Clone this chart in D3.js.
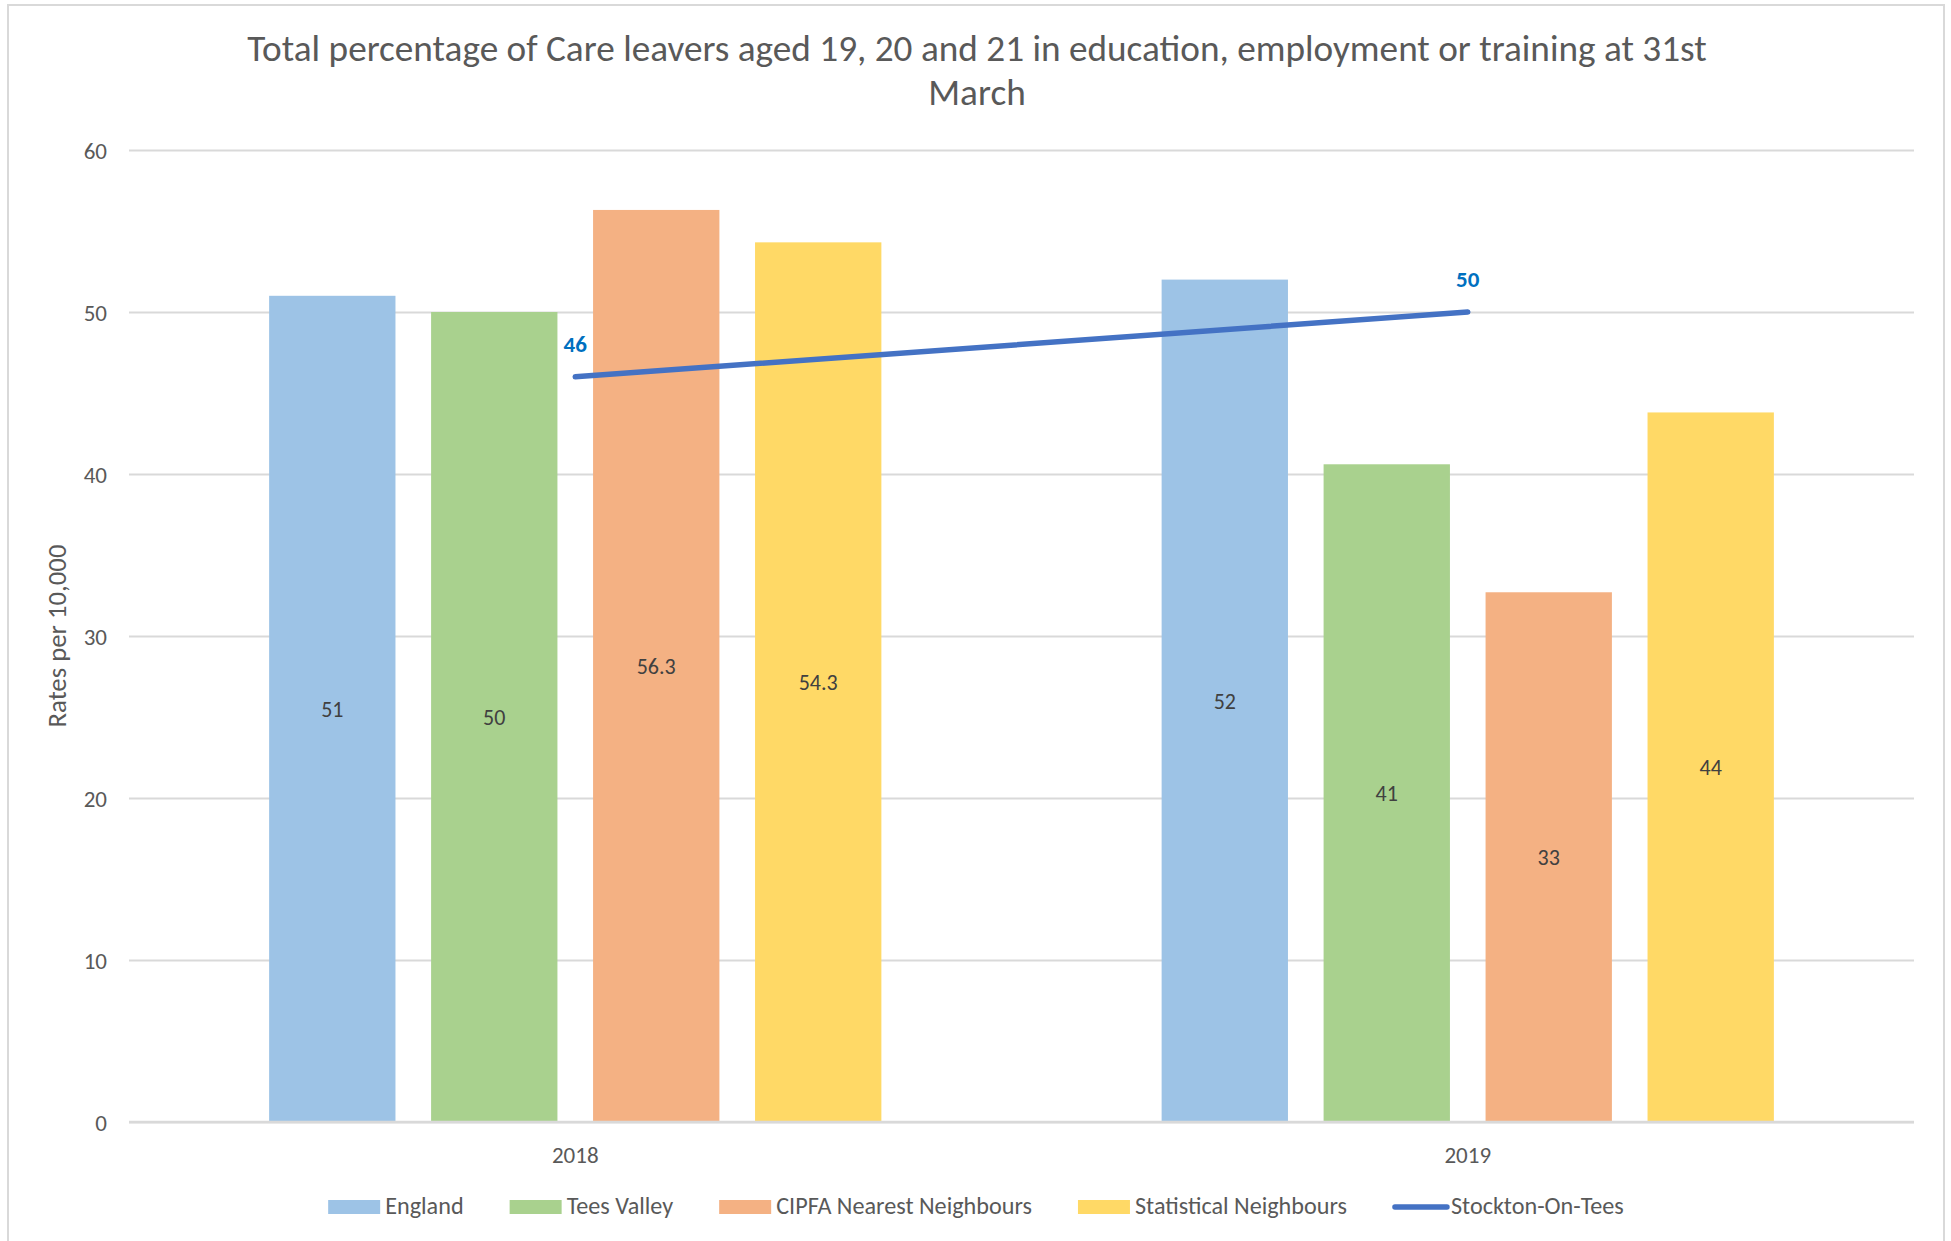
<!DOCTYPE html>
<html>
<head>
<meta charset="utf-8">
<script src="https://cdn.jsdelivr.net/npm/d3@7"></script>
<style>
  body { margin: 0; background: #fff; }
  text { font-family: Carlito, Calibri, Lato, sans-serif; }
</style>
</head>
<body>
<svg width="1951" height="1241"></svg>
<script>
// data
const years = ['2018', '2019'];
const series = ['England', 'Tees Valley', 'CIPFA Nearest Neighbours', 'Statistical Neighbours'];
const colors = ['#9DC3E6', '#A9D18E', '#F4B183', '#FFD966'];
const england = [51, 52],
      teesValley = [50, 40.6],
      cipfa = [56.3, 32.7],
      statNeighbours = [54.3, 43.8];
const barLabels = [['51', '52'], ['50', '41'], ['56.3', '33'], ['54.3', '44']];
const lineName = 'Stockton-On-Tees';
const stockton = [46, 50];
const yTicks = [0, 10, 20, 30, 40, 50, 60];
const titleLines = ['Total percentage of Care leavers aged 19, 20 and 21 in education, employment or training at 31st', 'March'];
const yTitle = 'Rates per 10,000';

const W = 1951, H = 1241;
const m = {l: 129, r: 1914, t: 150, b: 1122}; // plot area
const grey = '#595959', grid = '#d9d9d9';

const svg = d3.select('svg');

// chart frame
svg.append('rect')
  .attr('x', 8).attr('y', 5).attr('width', 1936).attr('height', 1260)
  .attr('fill', 'none').attr('stroke', grid).attr('stroke-width', 2);

// fit a text element to a target width (fonts differ from the original)
function fit(sel, target) {
  let fs = parseFloat(sel.attr('font-size'));
  let w = sel.node().getComputedTextLength();
  sel.attr('font-size', fs * target / w);
}

// title
const tg = svg.append('g');
tg.selectAll('text').data(titleLines).enter().append('text')
  .attr('x', 977).attr('y', (d, i) => 61 + i * 44)
  .attr('text-anchor', 'middle').attr('fill', grey).attr('font-size', 30)
  .text(d => d);
fit(tg.select('text'), 1460);
tg.selectAll('text').attr('font-size', tg.select('text').attr('font-size'));

// scales
const y = d3.scaleLinear().domain([0, 60]).range([m.b, m.t]);
const x0 = d3.scaleBand().domain(years).range([m.l, m.r]);
const bw = x0.bandwidth();
const x1 = d3.scaleBand().domain(series).range([bw * 0.157, bw * 0.843]).paddingInner(0.22);

// gridlines + y axis
const yAxis = svg.append('g').attr('transform', `translate(${m.l},0)`)
  .call(d3.axisLeft(y).tickValues(yTicks).tickSize(-(m.r - m.l)).tickPadding(22));
yAxis.select('.domain').remove();
yAxis.selectAll('line').attr('stroke', grid).attr('stroke-width', 2);
yAxis.selectAll('text').attr('fill', grey).attr('font-size', 23).attr('dy', '0.36em')
  .style('font-family', 'Carlito, Calibri, Lato, sans-serif');

// y axis title
const yt = svg.append('text')
  .attr('transform', `translate(66,636) rotate(-90)`)
  .attr('text-anchor', 'middle').attr('fill', grey).attr('font-size', 24)
  .text(yTitle);
fit(yt, 183);

// bars
const values = [england, teesValley, cipfa, statNeighbours];
const bars = [];
series.forEach((s, si) => years.forEach((yr, yi) =>
  bars.push({s, yr, v: values[si][yi], label: barLabels[si][yi], c: colors[si]})));

const gb = svg.append('g');
gb.selectAll('rect').data(bars).enter().append('rect')
  .attr('x', d => x0(d.yr) + x1(d.s)).attr('width', x1.bandwidth())
  .attr('y', d => y(d.v)).attr('height', d => y(0) - y(d.v))
  .attr('fill', d => d.c);

gb.selectAll('text').data(bars).enter().append('text')
  .attr('x', d => x0(d.yr) + x1(d.s) + x1.bandwidth() / 2)
  .attr('y', d => (y(0) + y(d.v)) / 2 + 8)
  .attr('text-anchor', 'middle').attr('fill', '#404040').attr('font-size', 22)
  .text(d => d.label);

// x axis line + category labels
svg.append('line').attr('x1', m.l).attr('x2', m.r).attr('y1', y(0)).attr('y2', y(0))
  .attr('stroke', grid).attr('stroke-width', 2.5);
svg.append('g').selectAll('text').data(years).enter().append('text')
  .attr('x', d => x0(d) + bw / 2).attr('y', 1163)
  .attr('text-anchor', 'middle').attr('fill', grey).attr('font-size', 23)
  .text(d => d);

// Stockton line
const pts = years.map((yr, i) => ({yr, v: stockton[i]}));
svg.append('path').datum(pts)
  .attr('d', d3.line().x(d => x0(d.yr) + bw / 2).y(d => y(d.v)))
  .attr('fill', 'none').attr('stroke', '#4472C4').attr('stroke-width', 5.5)
  .attr('stroke-linecap', 'round');
svg.append('g').selectAll('text').data(pts).enter().append('text')
  .attr('x', d => x0(d.yr) + bw / 2).attr('y', d => y(d.v) - 25)
  .attr('text-anchor', 'middle').attr('fill', '#0070C0').attr('font-weight', 'bold')
  .attr('font-size', 23)
  .text(d => d.v);

// legend
const legendItems = series.map((s, i) => ({name: s, c: colors[i], line: false}))
  .concat([{name: lineName, c: '#4472C4', line: true}]);
const lg = svg.append('g');
// size legend text so its total width matches the reference
const probe = lg.append('text').attr('font-size', 20);
let tw = 0;
legendItems.forEach(d => { probe.text(d.name); tw += probe.node().getComputedTextLength(); });
probe.remove();
const lfs = 20 * 826 / tw;
let lx = 0;
legendItems.forEach(d => {
  const g = lg.append('g').attr('transform', `translate(${lx},0)`);
  if (d.line) {
    g.append('line').attr('x1', 2).attr('x2', 54).attr('y1', 1207).attr('y2', 1207)
      .attr('stroke', d.c).attr('stroke-width', 5.5).attr('stroke-linecap', 'round');
  } else {
    g.append('rect').attr('x', 0).attr('y', 1200).attr('width', 52).attr('height', 14).attr('fill', d.c);
  }
  const t = g.append('text').attr('x', d.line ? 58 : 57).attr('y', 1214)
    .attr('fill', grey).attr('font-size', lfs).text(d.name);
  lx += (d.line ? 58 : 57) + t.node().getComputedTextLength() + 46;
});
lx -= 46;
lg.attr('transform', `translate(${976 - lx / 2},0)`);
</script>
</body>
</html>
